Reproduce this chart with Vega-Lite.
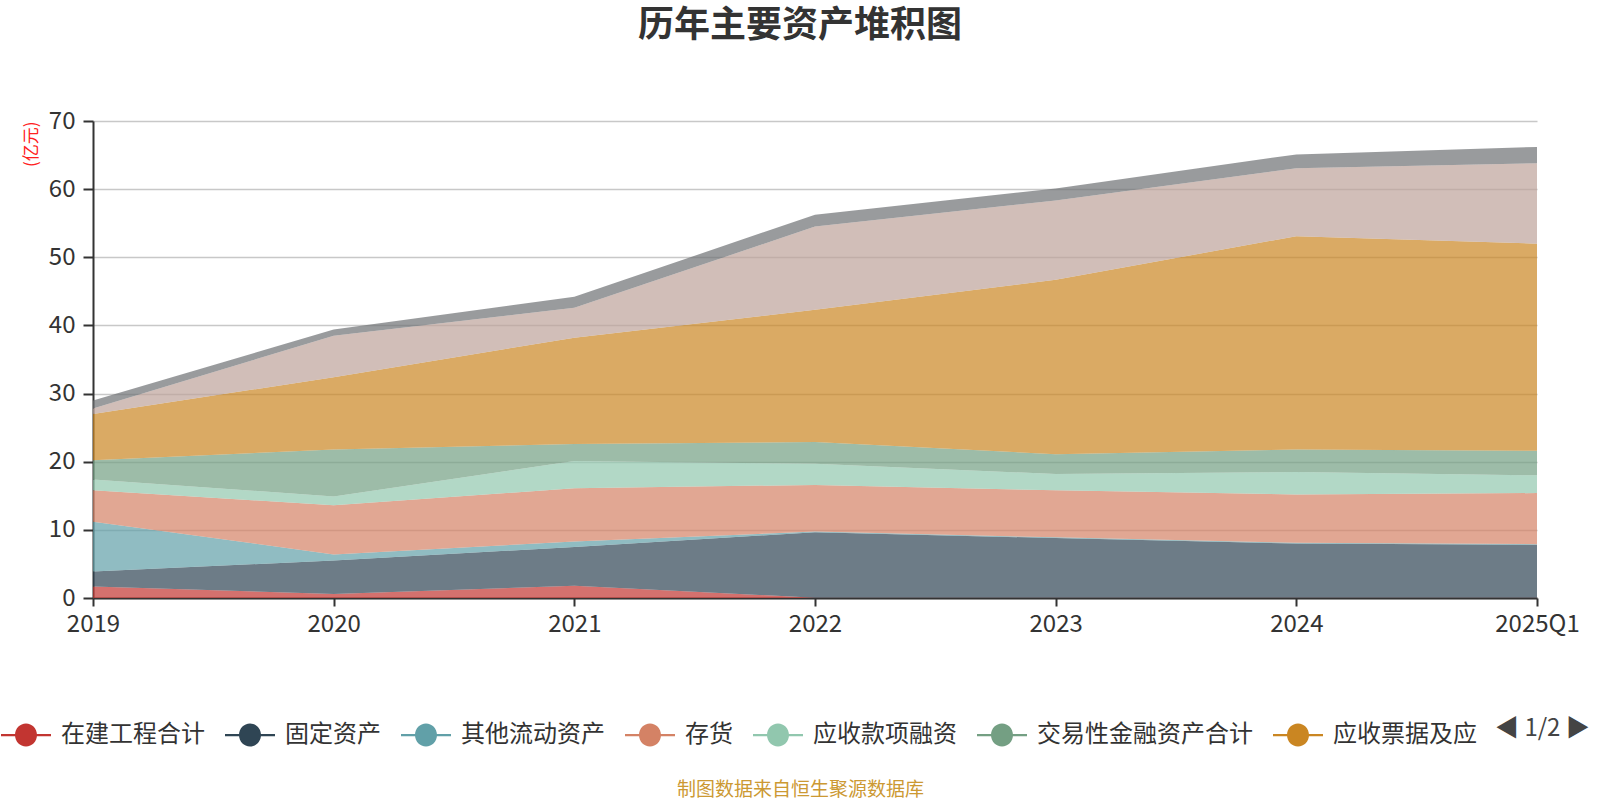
{
  "$schema": "https://vega.github.io/schema/vega-lite/v6.json",
  "width": 1444,
  "height": 477,
  "autosize": {"type": "none"},
  "padding": {"left": 93, "top": 121, "right": 63, "bottom": 202},
  "background": "#ffffff",
  "config": {
    "font": "Noto Sans CJK SC",
    "view": {"stroke": null}
  },
  "title": {
    "text": "历年主要资产堆积图",
    "fontSize": 36,
    "fontWeight": "bold",
    "color": "#333333",
    "anchor": "middle",
    "frame": "group",
    "dx": -15,
    "offset": 64
  },
  "data": {
    "values": [
      {"period": "2019", "item": "在建工程合计", "idx": 1, "value": 1.7},
      {"period": "2019", "item": "固定资产", "idx": 2, "value": 2.2},
      {"period": "2019", "item": "其他流动资产", "idx": 3, "value": 7.3},
      {"period": "2019", "item": "存货", "idx": 4, "value": 4.6},
      {"period": "2019", "item": "应收款项融资", "idx": 5, "value": 1.6},
      {"period": "2019", "item": "交易性金融资产合计", "idx": 6, "value": 2.8},
      {"period": "2019", "item": "应收票据及应收账款", "idx": 7, "value": 6.8},
      {"period": "2019", "item": "货币资金", "idx": 8, "value": 0.8},
      {"period": "2019", "item": "其他", "idx": 9, "value": 1.2},

      {"period": "2020", "item": "在建工程合计", "idx": 1, "value": 0.6},
      {"period": "2020", "item": "固定资产", "idx": 2, "value": 4.9},
      {"period": "2020", "item": "其他流动资产", "idx": 3, "value": 0.9},
      {"period": "2020", "item": "存货", "idx": 4, "value": 7.2},
      {"period": "2020", "item": "应收款项融资", "idx": 5, "value": 1.3},
      {"period": "2020", "item": "交易性金融资产合计", "idx": 6, "value": 6.9},
      {"period": "2020", "item": "应收票据及应收账款", "idx": 7, "value": 10.6},
      {"period": "2020", "item": "货币资金", "idx": 8, "value": 6.1},
      {"period": "2020", "item": "其他", "idx": 9, "value": 0.9},

      {"period": "2021", "item": "在建工程合计", "idx": 1, "value": 1.8},
      {"period": "2021", "item": "固定资产", "idx": 2, "value": 5.7},
      {"period": "2021", "item": "其他流动资产", "idx": 3, "value": 0.8},
      {"period": "2021", "item": "存货", "idx": 4, "value": 7.8},
      {"period": "2021", "item": "应收款项融资", "idx": 5, "value": 4.0},
      {"period": "2021", "item": "交易性金融资产合计", "idx": 6, "value": 2.5},
      {"period": "2021", "item": "应收票据及应收账款", "idx": 7, "value": 15.6},
      {"period": "2021", "item": "货币资金", "idx": 8, "value": 4.4},
      {"period": "2021", "item": "其他", "idx": 9, "value": 1.6},

      {"period": "2022", "item": "在建工程合计", "idx": 1, "value": 0.05},
      {"period": "2022", "item": "固定资产", "idx": 2, "value": 9.6},
      {"period": "2022", "item": "其他流动资产", "idx": 3, "value": 0.1},
      {"period": "2022", "item": "存货", "idx": 4, "value": 6.85},
      {"period": "2022", "item": "应收款项融资", "idx": 5, "value": 3.1},
      {"period": "2022", "item": "交易性金融资产合计", "idx": 6, "value": 3.2},
      {"period": "2022", "item": "应收票据及应收账款", "idx": 7, "value": 19.4},
      {"period": "2022", "item": "货币资金", "idx": 8, "value": 12.2},
      {"period": "2022", "item": "其他", "idx": 9, "value": 1.75},

      {"period": "2023", "item": "在建工程合计", "idx": 1, "value": 0.05},
      {"period": "2023", "item": "固定资产", "idx": 2, "value": 8.75},
      {"period": "2023", "item": "其他流动资产", "idx": 3, "value": 0.1},
      {"period": "2023", "item": "存货", "idx": 4, "value": 6.9},
      {"period": "2023", "item": "应收款项融资", "idx": 5, "value": 2.4},
      {"period": "2023", "item": "交易性金融资产合计", "idx": 6, "value": 2.9},
      {"period": "2023", "item": "应收票据及应收账款", "idx": 7, "value": 25.6},
      {"period": "2023", "item": "货币资金", "idx": 8, "value": 11.65},
      {"period": "2023", "item": "其他", "idx": 9, "value": 1.75},

      {"period": "2024", "item": "在建工程合计", "idx": 1, "value": 0.05},
      {"period": "2024", "item": "固定资产", "idx": 2, "value": 7.95},
      {"period": "2024", "item": "其他流动资产", "idx": 3, "value": 0.1},
      {"period": "2024", "item": "存货", "idx": 4, "value": 7.1},
      {"period": "2024", "item": "应收款项融资", "idx": 5, "value": 3.3},
      {"period": "2024", "item": "交易性金融资产合计", "idx": 6, "value": 3.3},
      {"period": "2024", "item": "应收票据及应收账款", "idx": 7, "value": 31.3},
      {"period": "2024", "item": "货币资金", "idx": 8, "value": 9.95},
      {"period": "2024", "item": "其他", "idx": 9, "value": 2.05},

      {"period": "2025Q1", "item": "在建工程合计", "idx": 1, "value": 0.05},
      {"period": "2025Q1", "item": "固定资产", "idx": 2, "value": 7.75},
      {"period": "2025Q1", "item": "其他流动资产", "idx": 3, "value": 0.1},
      {"period": "2025Q1", "item": "存货", "idx": 4, "value": 7.5},
      {"period": "2025Q1", "item": "应收款项融资", "idx": 5, "value": 2.6},
      {"period": "2025Q1", "item": "交易性金融资产合计", "idx": 6, "value": 3.6},
      {"period": "2025Q1", "item": "应收票据及应收账款", "idx": 7, "value": 30.4},
      {"period": "2025Q1", "item": "货币资金", "idx": 8, "value": 11.8},
      {"period": "2025Q1", "item": "其他", "idx": 9, "value": 2.4}
    ]
  },
  "mark": {"type": "area", "opacity": 0.7},
  "encoding": {
    "x": {
      "field": "period",
      "type": "ordinal",
      "scale": {"type": "point", "padding": 0},
      "axis": {
        "title": "制图数据来自恒生聚源数据库",
        "titleColor": "#cc9933",
        "titleFontSize": 19,
        "titleFontWeight": "normal",
        "titleX": 707,
        "titleY": 191,
        "titleBaseline": "middle",
        "titleAlign": "center",
        "labelAngle": 0,
        "labelFontSize": 24,
        "labelColor": "#333333",
        "labelPadding": 6,
        "domainColor": "#333333",
        "domainWidth": 2,
        "tickColor": "#333333",
        "tickWidth": 2,
        "tickSize": 8,
        "grid": false
      }
    },
    "y": {
      "field": "value",
      "type": "quantitative",
      "stack": "zero",
      "scale": {"domain": [0, 70], "nice": false},
      "axis": {
        "title": "(亿元)",
        "titleColor": "#ff2020",
        "titleFontSize": 17,
        "titleFontWeight": "normal",
        "titleAngle": -90,
        "titleAlign": "right",
        "titleBaseline": "middle",
        "titleX": -62,
        "titleY": 0,
        "values": [0, 10, 20, 30, 40, 50, 60, 70],
        "labelFontSize": 24,
        "labelColor": "#333333",
        "labelPadding": 8,
        "domainColor": "#333333",
        "domainWidth": 2,
        "tickColor": "#333333",
        "tickWidth": 2,
        "tickSize": 10,
        "grid": true,
        "gridColor": "#c8c8c8",
        "gridWidth": 1.5
      }
    },
    "color": {
      "field": "item",
      "type": "nominal",
      "sort": ["在建工程合计", "固定资产", "其他流动资产", "存货", "应收款项融资", "交易性金融资产合计", "应收票据及应收账款", "货币资金", "其他"],
      "scale": {
        "domain": ["在建工程合计", "固定资产", "其他流动资产", "存货", "应收款项融资", "交易性金融资产合计", "应收票据及应收账款", "货币资金", "其他"],
        "range": ["#c23531", "#2f4554", "#61a0a8", "#d48265", "#91c7ae", "#749f83", "#ca8622", "#bda29a", "#6e7074"]
      },
      "legend": {
        "orient": "none",
        "direction": "horizontal",
        "legendX": -92,
        "legendY": 589,
        "values": ["在建工程合计", "固定资产", "其他流动资产", "存货", "应收款项融资", "交易性金融资产合计", "应收票据及应收账款"],
        "labelExpr": "datum.label == '应收票据及应收账款' ? '应收票据及应' : datum.label",
        "labelLimit": 400,
        "symbolType": "M-1,-0.045H1V0.045H-1Z M0.44,0A0.44,0.46,0,1,1,-0.44,0A0.44,0.46,0,1,1,0.44,0Z",
        "symbolSize": 2500,
        "symbolOpacity": 1,
        "symbolStrokeWidth": 0,
        "labelFontSize": 24,
        "labelColor": "#333333",
        "labelOffset": 10,
        "columnPadding": 20,
        "title": "◀ 1/2 ▶",
        "titleOrient": "right",
        "titleFontSize": 24,
        "titleFontWeight": "normal",
        "titleColor": "#444444",
        "titlePadding": 18,
        "titleBaseline": "middle"
      }
    },
    "order": {"field": "idx", "type": "quantitative", "sort": "ascending"}
  }
}
